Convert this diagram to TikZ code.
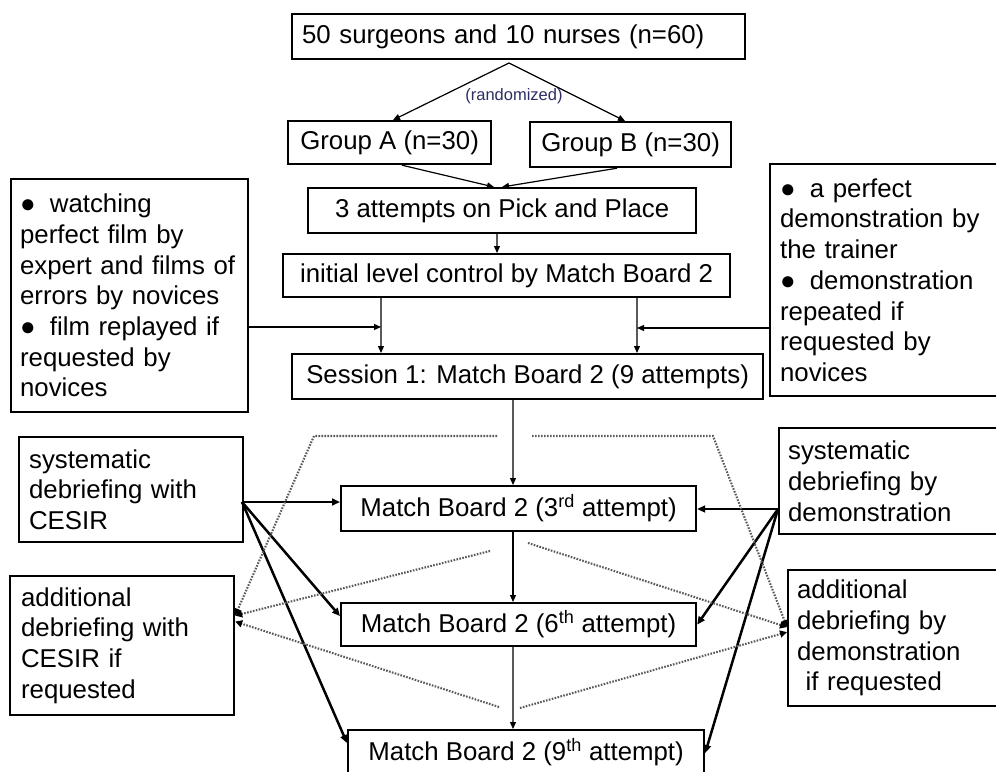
\documentclass[tikz,border=0pt]{standalone}
\usepackage{fontspec}
\setmainfont{Liberation Sans}
\usetikzlibrary{arrows.meta}
\definecolor{randc}{RGB}{45,45,100}
\definecolor{dotc}{RGB}{90,90,90}
\newcommand{\blt}{●\hspace{0.55em}}
\begin{document}
\begin{tikzpicture}[x=1bp,y=-1bp,
  box/.style={draw, line width=2.2bp, anchor=north west, inner ysep=0pt,
    font=\fontsize{25.8bp}{30.7bp}\selectfont},
  cbox/.style={box, align=center, inner xsep=0pt},
  conn/.style={line width=1.2bp, -{Triangle[length=7bp,width=6bp]}},
  boldconn/.style={line width=2.5bp, -{Triangle[length=8bp,width=7bp]}},
  dotconn/.style={dotc, line width=2.1bp, dash pattern=on 1.6bp off 1.4bp, -{Triangle[length=7bp,width=7bp,color=black]}}
]
\useasboundingbox (0,0) rectangle (996,772);
\clip (0,0) rectangle (996,772);

% boxes
\node[box, align=left, inner xsep=10bp, text width=433bp, minimum width=453bp, minimum height=45bp] (top) at (291,13) {50 surgeons and 10 nurses (n=60)};
\node[cbox, minimum width=203bp, minimum height=43bp] (gA) at (287,120) {Group A (n=30)};
\node[cbox, minimum width=201bp, minimum height=45bp] (gB) at (529,121) {Group B (n=30)};
\node[cbox, minimum width=388bp, minimum height=45bp] (att) at (307,187) {3 attempts on Pick and Place};
\node[cbox, minimum width=447bp, minimum height=43bp] (init) at (282,253) {initial level control by Match Board 2};
\node[cbox, minimum width=471bp, minimum height=45bp] (sess) at (291,353) {Session 1: Match Board 2 (9 attempts)};
\node[box, align=left, inner xsep=9bp, text width=219bp, minimum height=233bp] (lbox) at (10,178)
  {\blt watching\\perfect film by\\expert and films of\\errors by novices\\\blt film replayed if\\requested by\\novices};
\node[box, align=left, inner xsep=10bp, text width=222bp, minimum height=232bp] (rbox) at (769,163)
  {\blt a perfect\\demonstration by\\the trainer\\\blt demonstration\\repeated if\\requested by\\novices};
\node[cbox, minimum width=355bp, minimum height=45bp] (mb3) at (340,485) {Match Board 2 (3\textsuperscript{rd} attempt)};
\node[cbox, minimum width=355bp, minimum height=43bp] (mb6) at (340,602) {Match Board 2 (6\textsuperscript{th} attempt)};
\node[cbox, minimum width=356bp, minimum height=45bp] (mb9) at (347,729) {Match Board 2 (9\textsuperscript{th} attempt)};
\node[box, align=left, inner xsep=10bp, text width=204bp, minimum height=105bp] (sysC) at (18,436)
  {systematic\\debriefing with\\CESIR};
\node[box, align=left, inner xsep=11bp, text width=202bp, minimum height=139bp] (addC) at (9,575)
  {additional\\debriefing with\\CESIR if\\requested};
\node[box, align=left, inner xsep=9bp, text width=214bp, minimum height=106bp] (sysD) at (778,427)
  {systematic\\debriefing by\\demonstration};
\node[box, align=left, inner xsep=9bp, text width=209bp, minimum height=136bp] (addD) at (787,569)
  {additional\\debriefing by\\demonstration\\\ if requested};
\node[text=randc, font=\fontsize{16.5bp}{18bp}\selectfont, inner sep=0pt] (rand) at (514,96) {(randomized)};

% thin connectors
\coordinate (split) at (509,63);
\draw[conn] (split) -- ([xshift=106bp]gA.north west);
\draw[conn] (split) -- ([xshift=96bp]gB.north west);
\draw[conn] ([xshift=115bp]gA.south west) -- ([xshift=187bp]att.north west);
\draw[conn] ([xshift=88bp]gB.south west) -- ([xshift=195bp]att.north west);
\draw[conn] ([xshift=190bp]att.south west) -- ([xshift=215bp]init.north west);
\draw[conn] ([xshift=99bp]init.south west) -- ([xshift=90bp]sess.north west);
\draw[conn] ([xshift=355bp]init.south west) -- ([xshift=346bp]sess.north west);
\coordinate (jL) at (381,327);
\coordinate (jR) at (637,328);
\draw[conn] (lbox.east |- jL) -- (jL);
\draw[conn] (rbox.west |- jR) -- (jR);
\draw[conn] ([xshift=222bp]sess.south west) -- ([xshift=173bp]mb3.north west);
\draw[conn] ([xshift=173bp]mb3.south west) -- ([xshift=173bp]mb6.north west);
\draw[conn] ([xshift=173bp]mb6.south west) -- ([xshift=166bp]mb9.north west);

% bold connectors
\coordinate (oC) at (242,502);
\draw[boldconn] (oC) -- (mb3.west |- oC);
\draw[boldconn] (oC) -- ([yshift=8.5bp]mb6.west);
\draw[boldconn] (oC) -- ([yshift=-14bp]mb9.north west);
\coordinate (oD) at (778,509);
\draw[boldconn] (oD) -- (mb3.east |- oD);
\draw[boldconn] (oD) -- (mb6.east);
\draw[boldconn] (oD) -- ([yshift=-24bp]mb9.north east);

% dotted connectors
\coordinate (d1) at (497,436);
\coordinate (d1c) at (314,436);
\coordinate (d2) at (490,551);
\coordinate (d3) at (499,707);
\coordinate (e1) at (532,436);
\coordinate (e1c) at (713,436);
\coordinate (e2) at (528,543);
\coordinate (e3) at (520,708);
\draw[dotconn] (d1) -- (d1c) -- ([yshift=30bp]addC.east);
\draw[dotconn] (d2) -- ([yshift=30bp]addC.east);
\draw[dotconn] (d3) -- ([yshift=24bp]addC.east);
\draw[dotconn] (e1) -- (e1c) -- ([yshift=11bp]addD.west);
\draw[dotconn] (e2) -- ([yshift=11bp]addD.west);
\draw[dotconn] (e3) -- ([yshift=6bp]addD.west);
\end{tikzpicture}
\end{document}
